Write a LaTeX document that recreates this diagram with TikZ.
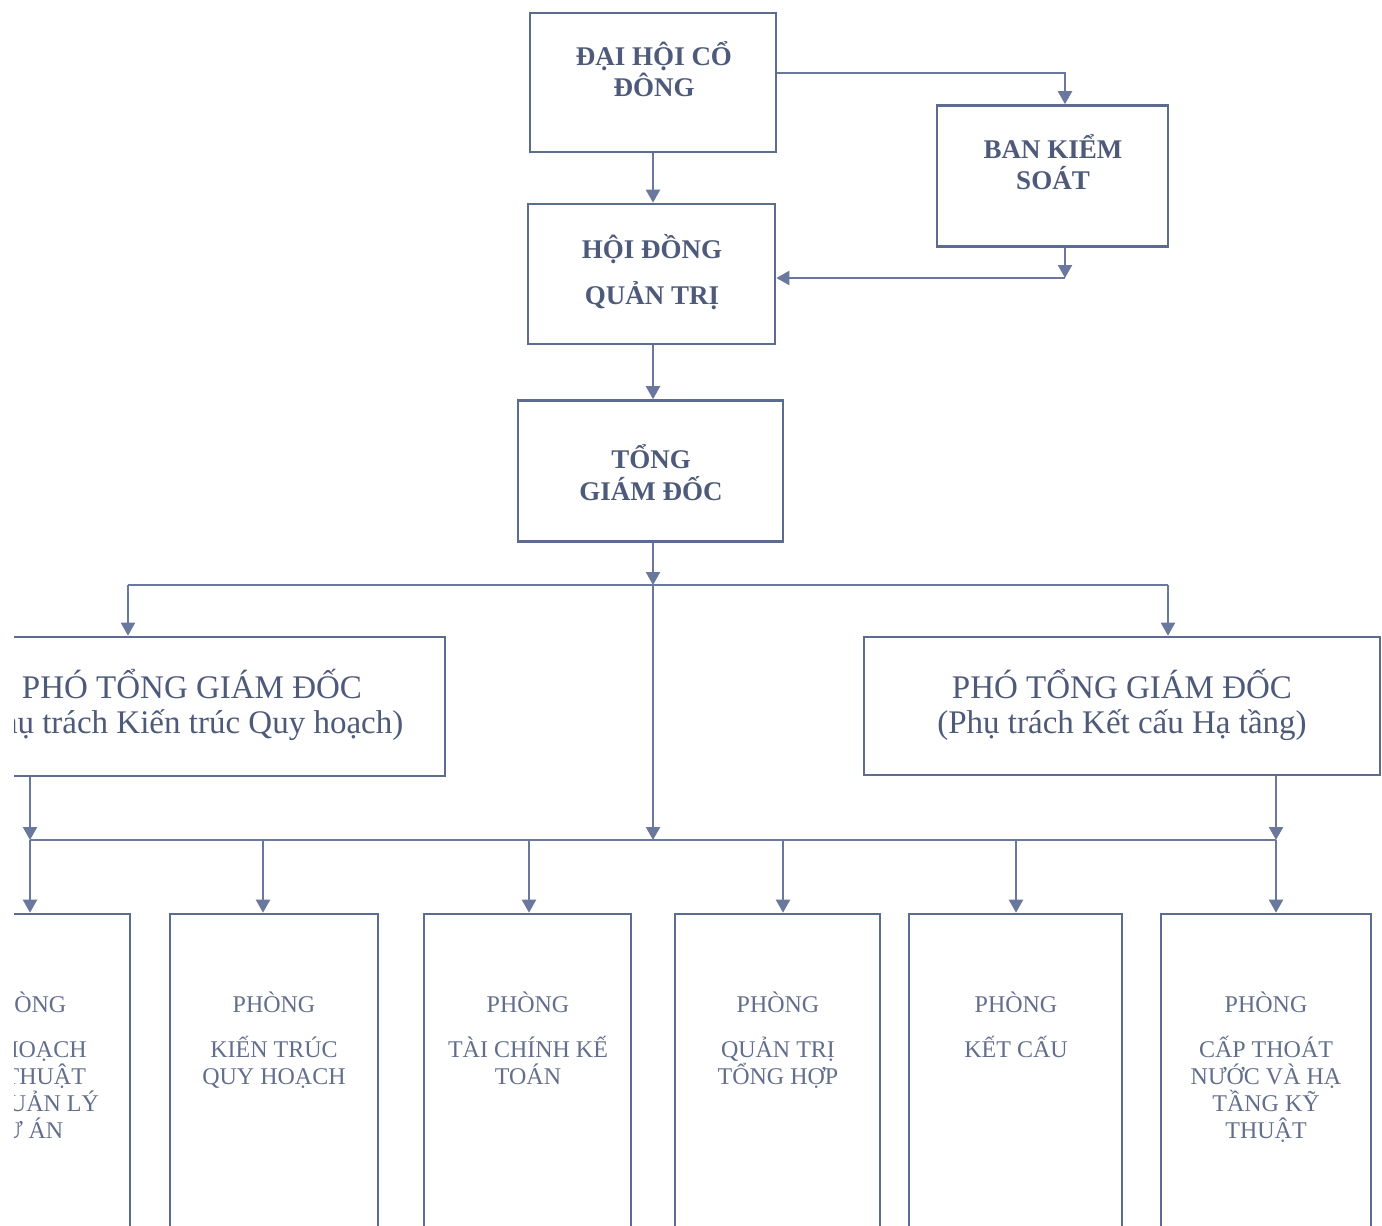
\documentclass[tikz,border=0pt]{standalone}
\usepackage{fontspec}
\setmainfont{Liberation Serif}
\usetikzlibrary{arrows.meta,calc}
\definecolor{lc}{RGB}{92,108,145}
\definecolor{cc}{RGB}{105,120,156}
\definecolor{tc}{RGB}{78,90,122}
\definecolor{tcl}{RGB}{98,110,140}
\tikzset{
 box/.style={draw=lc,line width=2.6pt,inner sep=0pt},
 conn/.style={draw=cc,line width=2.2pt},
 arr/.style={conn,-{Triangle[length=13pt,width=14pt]}},
 topt/.style={text=tc,font=\fontsize{27}{30}\selectfont\bfseries,anchor=base,inner sep=0pt},
 vpt/.style={text=tc,font=\fontsize{33}{37}\selectfont,anchor=base,inner sep=0pt},
 dpt/.style={text=tcl,font=\fontsize{24}{27}\selectfont,anchor=base,inner sep=0pt},
}
\begin{document}
\begin{tikzpicture}[x=1pt,y=-1pt]
\useasboundingbox (0,0) rectangle (1382,1226);
\fill[white] (0,0) rectangle (1382,1226);
\clip (14,0) rectangle (1382,1226);

% boxes
\node[box,minimum width=246pt,minimum height=139pt] (dh) at (653,82.5) {};
\node[box,minimum width=231pt,minimum height=141pt] (bks) at (1052.5,176) {};
\node[box,minimum width=247pt,minimum height=140pt] (hd) at (651.5,274) {};
\node[box,minimum width=265pt,minimum height=141pt] (tg) at (650.5,471) {};
\node[box,minimum width=506pt,minimum height=139pt] (pl) at (192,706.5) {};
\node[box,minimum width=516pt,minimum height=138pt] (pr) at (1122,706) {};
\node[box,minimum width=208pt,minimum height=336pt] (b1) at (26,1082) {};
\node[box,minimum width=208pt,minimum height=336pt] (b2) at (274,1082) {};
\node[box,minimum width=207pt,minimum height=336pt] (b3) at (527.5,1082) {};
\node[box,minimum width=205pt,minimum height=336pt] (b4) at (777.5,1082) {};
\node[box,minimum width=213pt,minimum height=336pt] (b5) at (1015.5,1082) {};
\node[box,minimum width=210pt,minimum height=336pt] (b6) at (1266,1082) {};

% texts
\node[topt] (dh1) at (654,65) {ĐẠI HỘI CỔ};
\node[topt] (dh2) at (654,96) {ĐÔNG};
\node[topt] (bks1) at (1053,158) {BAN KIỂM};
\node[topt] (bks2) at (1053,189) {SOÁT};
\node[topt] (hd1) at (652,258) {HỘI ĐỒNG};
\node[topt] (hd2) at (652,304) {QUẢN TRỊ};
\node[topt] (tg1) at (651,468) {TỔNG};
\node[topt] (tg2) at (651,500) {GIÁM ĐỐC};
\node[vpt] (pl1) at (192,698) {PHÓ TỔNG GIÁM ĐỐC};
\node[vpt] (pl2) at (187.5,733) {(Phụ trách Kiến trúc Quy hoạch)};
\node[vpt] (pr1) at (1122,698) {PHÓ TỔNG GIÁM ĐỐC};
\node[vpt] (pr2) at (1122,733) {(Phụ trách Kết cấu Hạ tầng)};

\node[dpt] (b1a) at (25,1012) {PHÒNG};
\node[dpt] (b1b) at (25,1057) {KẾ HOẠCH};
\node[dpt] (b1c) at (25,1084) {KỸ THUẬT};
\node[dpt] (b1d) at (25,1111) {VÀ QUẢN LÝ};
\node[dpt] (b1e) at (25,1138) {DỰ ÁN};
\node[dpt] (b2a) at (274,1012) {PHÒNG};
\node[dpt] (b2b) at (274,1057) {KIẾN TRÚC};
\node[dpt] (b2c) at (274,1084) {QUY HOẠCH};
\node[dpt] (b3a) at (528,1012) {PHÒNG};
\node[dpt] (b3b) at (528,1057) {TÀI CHÍNH KẾ};
\node[dpt] (b3c) at (528,1084) {TOÁN};
\node[dpt] (b4a) at (778,1012) {PHÒNG};
\node[dpt] (b4b) at (778,1057) {QUẢN TRỊ};
\node[dpt] (b4c) at (778,1084) {TỔNG HỢP};
\node[dpt] (b5a) at (1016,1012) {PHÒNG};
\node[dpt] (b5b) at (1016,1057) {KẾT CẤU};
\node[dpt] (b6a) at (1266,1012) {PHÒNG};
\node[dpt] (b6b) at (1266,1057) {CẤP THOÁT};
\node[dpt] (b6c) at (1266,1084) {NƯỚC VÀ HẠ};
\node[dpt] (b6d) at (1266,1111) {TẦNG KỸ};
\node[dpt] (b6e) at (1266,1138) {THUẬT};

% connectors
\coordinate (cx) at (653,0);
\coordinate (k1) at (1065,73);
\coordinate (k2) at (1065,278);
\draw[arr] (dh.south -| cx) -- (hd.north -| cx);
\draw[arr] (dh.east |- k1) -- (k1) -- (k1 |- bks.north);
\draw[arr] (k1 |- bks.south) -- (k2);
\draw[arr] (k2) -- (k2 -| hd.east);
\draw[arr] (hd.south -| cx) -- (tg.north -| cx);

\coordinate (t1) at (653,585);
\coordinate (t1l) at (128,585);
\coordinate (t1r) at (1168,585);
\draw[arr] (tg.south -| t1) -- (t1);
\draw[conn] (t1l) -- (t1r);
\draw[arr] (t1l) -- (t1l |- pl.north);
\draw[arr] (t1r) -- (t1r |- pr.north);

\coordinate (bus) at (653,840);
\coordinate (bl) at (30,840);
\coordinate (br) at (1276,840);
\coordinate (d2) at (263,840);
\coordinate (d3) at (529,840);
\coordinate (d4) at (783,840);
\coordinate (d5) at (1016,840);
\draw[arr] (t1) -- (bus);
\draw[conn] (bl) -- (br);
\draw[arr] (bl |- pl.south) -- (bl);
\draw[arr] (bl) -- (bl |- b1.north);
\draw[arr] (br |- pr.south) -- (br);
\draw[arr] (br) -- (br |- b6.north);
\draw[arr] (d2) -- (d2 |- b2.north);
\draw[arr] (d3) -- (d3 |- b3.north);
\draw[arr] (d4) -- (d4 |- b4.north);
\draw[arr] (d5) -- (d5 |- b5.north);
\end{tikzpicture}
\end{document}
